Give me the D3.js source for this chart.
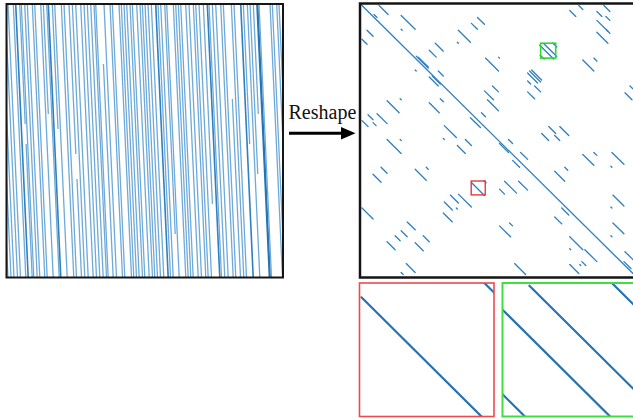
<!DOCTYPE html>
<html><head><meta charset="utf-8">
<script src="https://cdn.jsdelivr.net/npm/d3@7"></script>
<style>html,body{margin:0;padding:0;background:#fff;overflow:hidden}svg{display:block}</style>
</head><body>
<svg id="chart" width="633" height="419"></svg>
<script>
// ---------- DATA ----------
// Left matrix (before reshape): [column at top row, start row, end row, density]
const leftLines = [
  [-11,0,273.5,1],[-8,0,273.5,1],[-5,0,273.5,1],[-1.5,0,273.5,1],[1.5,0,273.5,1],
  [6.8,0,273.5,1],[9.2,0,273.5,2],[13.2,0,120,1],[13.2,140,273.5,1],[14.8,0,273.5,1],[18.2,0,273.5,1],
  [20.8,0,273.5,1],[25.8,0,273.5,1],[28.2,0,273.5,1],[34.2,0,273.5,1],[36.8,0,110,1],
  [40.2,0,273.5,1],[41.8,0,273.5,2],[45.8,0,125,1],[48.2,0,273.5,1],[54.8,0,273.5,1],
  [57.5,0,273.5,1],[62.5,0,150,1],[62.5,175,273.5,1],[65.8,0,273.5,1],[69.2,0,273.5,1],[74.2,0,273.5,1],
  [77.5,0,273.5,1],[80.8,0,273.5,1],[84.2,0,273.5,1],[87.5,0,273.5,1],[89.2,0,273.5,1],
  [94.2,60,273.5,1],[97.5,0,273.5,1],[103.5,0,273.5,1],[105.8,0,273.5,1],[112.5,0,273.5,1],
  [114.8,0,273.5,1],[117.5,0,273.5,1],[120.2,0,273.5,1],[123.5,0,273.5,1],[125.8,0,273.5,1],
  [130.2,0,273.5,1],[133.5,0,273.5,1],[135.8,0,273.5,1],[138.5,0,273.5,1],[141.5,0,273.5,1],
  [144.8,0,273.5,1],[149.2,0,273.5,2],[151.5,0,273.5,1],[154.2,0,273.5,1],[158.2,0,230,1],
  [160.2,0,273.5,1],[166.8,0,273.5,1],[169.2,0,273.5,1],[171.8,0,273.5,1],[174.2,0,273.5,1],
  [179.2,0,273.5,1],[182.5,0,273.5,1],[186.8,0,273.5,1],[189.2,0,273.5,1],[192.5,0,273.5,1],
  [196.8,0,200,1],[200.8,0,273.5,2],[202.5,0,273.5,1],[205.8,0,273.5,1],[209.2,0,273.5,1],
  [214.2,0,273.5,1],[216.8,0,273.5,1],[221.5,95,273.5,1],[224.8,0,273.5,1],[227.5,0,273.5,1],
  [234.2,0,273.5,2],[236.8,0,140,1],[240.8,0,273.5,1],[243.5,0,170,1],[246.8,0,110,1],
  [250.8,0,273.5,3],[252.5,0,273.5,1],[263.5,0,273.5,1],[265.8,0,273.5,1],[270.2,0,273.5,1],
  [272.5,0,273.5,1]
];
const leftDrift = 12.5;   // columns shifted over the full height

// Right matrix (after reshape): diagonal runs [start column, start row, length]
const diagRuns = [
  [0,0,276],
  [19,2,9],[14,11,3],[41,12,14],[41,26,1],[7,27,6],[2,36,5],[117,14,7],[111,20,6],[98,27,12],
  [97,39,1],[75,40,8],[69,47,7],[56,53,12],[58,54,10],[55,67,1],[78,68,5],[69,74,9],[72,73,8],
  [125,55,13],[132,83,6],[124,88,9],[127,97,11],[27,98,12],[40,96,1],[69,100,10],[80,96,3],
  [8,112,5],[2,118,6],[13,120,3],[17,111,10],[121,110,4],[110,115,10],[84,123,12],[83,136,1],
  [105,137,6],[97,143,8],[27,137,14],[40,137,1],[21,165,6],[13,172,8],[55,167,11],[66,165,2],
  [111,180.3,13],[123.6,178.6,2],[90,193,8],[98,192,13],[84,200,8],[83,211,9],[2,206,11],[47,220,8],
  [41,229,6],[35,234,5],[27,240,8],[63,234,6],[55,241,8],[46,262,9],[41,271,2],[96,206,1],
  [218,2,4],[209,7,6],[243,2,6],[236,8,5],[245,13,4],[236,17,11],[236,29,11],[246,27,3],
  [179,42,14],[183,40.3,13],[179.5,52,4],[192,39.8,4],
  [222,57,11],[233,55,3],[169,68,11],[171,67,10],[167,70,10],[167,78,3],[174,83,6],[167,89,7],
  [138,54,1],[264,90,7],[269,83,4],[188,124,7],[181,131,7],[199,124,9],[194,133,5],
  [139,141,9],[148,137,4],[152,158,7],[160,150,7],[222,152,11],[233,150,3],[251,150,12],[250,164,1],
  [194,169,10],[204,165,3],[144,179,12],[158,179,9],[139,187,5],[252,193,11],[250,205,1],
  [201,206,7],[194,215,7],[139,224,11],[149,221,3],[252,221,11],[250,234,1],[209,235,13],
  [224,248,12],[209,247,1],[221,260,4],[219,263,1],[209,263,9],[154,262,11],[264,250,9],[263,260,7]
];
// Zoom windows: [start column, start row, size]
const redWindow = [110.8, 178.8, 14];
const greenWindow = [180, 40, 15];
const arrowLabel = "Reshape";

// ---------- LAYOUT ----------
const svg = d3.select("#chart");
const leftBox  = {x:6.5, y:4, w:276.5, h:273.5};
const rightBox = {x:360, y:3.5, w:277, h:274};
const redBox   = {x:359.5, y:283, w:134.5, h:133.5};
const greenBox = {x:502.5, y:283, w:134.5, h:133.5};

const defs = svg.append("defs");
function clip(id, b){ defs.append("clipPath").attr("id",id).append("rect")
  .attr("x",b.x).attr("y",b.y).attr("width",b.w).attr("height",b.h); }
clip("cl",leftBox); clip("cr",rightBox); clip("cred",redBox); clip("cgreen",greenBox);

// ---------- LEFT PANEL ----------
const lx = d3.scaleLinear().domain([0,276.5]).range([leftBox.x, leftBox.x+leftBox.w]);
const ly = d3.scaleLinear().domain([0,273.5]).range([leftBox.y, leftBox.y+leftBox.h]);
const lColor = d3.scaleOrdinal().domain([1,2,3]).range(["#6eaad9","#2f80c1","#2574b3"]);
const lWidth = d3.scaleOrdinal().domain([1,2,3]).range([1.3,1.6,2.3]);
const colAt = (c,r)=> c + leftDrift*r/273.5;
svg.append("g").attr("clip-path","url(#cl)").selectAll("line").data(leftLines).join("line")
  .attr("x1",d=>lx(colAt(d[0],d[1]))).attr("y1",d=>ly(d[1]))
  .attr("x2",d=>lx(colAt(d[0],d[2]))).attr("y2",d=>ly(d[2]))
  .attr("stroke",d=>lColor(d[3])).attr("stroke-width",d=>lWidth(d[3]));
svg.append("rect").attr("x",leftBox.x).attr("y",leftBox.y).attr("width",leftBox.w).attr("height",leftBox.h)
  .attr("fill","none").attr("stroke","#151515").attr("stroke-width",2);

// ---------- RIGHT PANEL ----------
const rx = d3.scaleLinear().domain([0,276]).range([rightBox.x, rightBox.x+rightBox.w]);
const ry = d3.scaleLinear().domain([0,276]).range([rightBox.y, rightBox.y+rightBox.h]);
function drawRuns(g, sx, sy, color, width){
  g.selectAll("line").data(diagRuns).join("line")
    .attr("x1",d=>sx(d[0])).attr("y1",d=>sy(d[1]))
    .attr("x2",d=>sx(d[0]+d[2])).attr("y2",d=>sy(d[1]+d[2]))
    .attr("stroke",color).attr("stroke-width",width).attr("stroke-linecap","round");
}
drawRuns(svg.append("g").attr("clip-path","url(#cr)"), rx, ry, "#3282c0", 1.35);
svg.append("rect").attr("x",rightBox.x).attr("y",rightBox.y).attr("width",rightBox.w).attr("height",rightBox.h)
  .attr("fill","none").attr("stroke","#151515").attr("stroke-width",2.5);

// window markers
function marker(w, color, sw){
  svg.append("rect").attr("x",rx(w[0])).attr("y",ry(w[1]))
    .attr("width",rx(w[0]+w[2])-rx(w[0])).attr("height",ry(w[1]+w[2])-ry(w[1]))
    .attr("fill","none").attr("stroke",color).attr("stroke-width",sw);
}
marker(redWindow,"#e8393a",1.4);
marker(greenWindow,"#2fd82f",1.6);

// ---------- ZOOM INSETS ----------
function inset(w, box, clipId, color, sw){
  const sx = d3.scaleLinear().domain([w[0], w[0]+w[2]]).range([box.x, box.x+box.w]);
  const sy = d3.scaleLinear().domain([w[1], w[1]+w[2]]).range([box.y, box.y+box.h]);
  drawRuns(svg.append("g").attr("clip-path",`url(#${clipId})`), sx, sy, "#2573b3", 2.2);
  svg.append("rect").attr("x",box.x).attr("y",box.y).attr("width",box.w).attr("height",box.h)
    .attr("fill","none").attr("stroke",color).attr("stroke-width",sw);
}
inset(redWindow, redBox, "cred", "#ee4a4a", 1.6);
inset(greenWindow, greenBox, "cgreen", "#3de03d", 2);

// ---------- ARROW ----------
svg.append("text").attr("x",288.5).attr("y",118.5).text(arrowLabel)
  .attr("font-family","'Liberation Serif','Times New Roman',serif").attr("font-size",20).attr("fill","#111");
svg.append("line").attr("x1",289).attr("y1",133.3).attr("x2",344).attr("y2",133.3)
  .attr("stroke","#000").attr("stroke-width",3);
svg.append("path").attr("d","M341,127 L355.5,133.3 L341,139.6 Z").attr("fill","#000");
</script>
</body></html>
